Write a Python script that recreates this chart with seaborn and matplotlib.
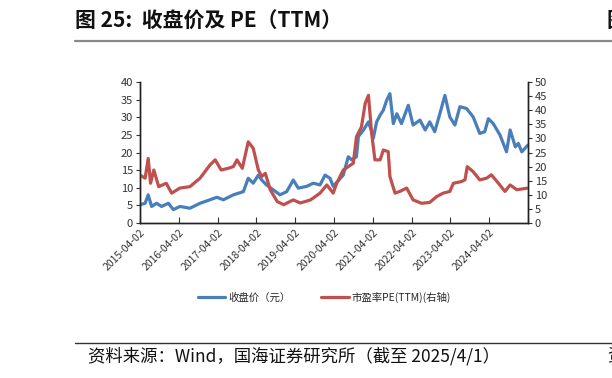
import pandas as pd
import matplotlib
matplotlib.use('Agg')
import matplotlib.pyplot as plt
import seaborn as sns

# 收盘价（元），左轴
price_dates = ['2015-04-02', '2015-05-20', '2015-06-18', '2015-07-20', '2015-09-05', '2015-10-22',
               '2015-12-25', '2016-02-10', '2016-04-12', '2016-07-15', '2016-10-18', '2017-01-20',
               '2017-03-25', '2017-05-26', '2017-08-28', '2017-11-30', '2018-01-15', '2018-03-03',
               '2018-04-20', '2018-05-22', '2018-07-06', '2018-09-08', '2018-11-10', '2019-01-12',
               '2019-03-15', '2019-05-01', '2019-07-19', '2019-09-20', '2019-11-22', '2020-01-08',
               '2020-02-24', '2020-03-25', '2020-06-28', '2020-08-14', '2020-09-16', '2020-10-30',
               '2020-11-17', '2021-01-04', '2021-02-20', '2021-03-22', '2021-04-06', '2021-05-08',
               '2021-06-10', '2021-07-10', '2021-08-10', '2021-09-10', '2021-10-12', '2021-11-14',
               '2021-12-28', '2022-03-02', '2022-04-16', '2022-06-20', '2022-08-08', '2022-09-20',
               '2022-11-06', '2022-12-24', '2023-02-10', '2023-03-28', '2023-05-15', '2023-07-01',
               '2023-09-01', '2023-11-03', '2024-01-04', '2024-02-20', '2024-03-25', '2024-05-10',
               '2024-07-12', '2024-09-12', '2024-10-16', '2024-12-04', '2025-01-01', '2025-02-03',
               '2025-04-01']
price_vals = [5.2, 5.6, 8.0, 4.7, 5.6, 4.7,
              5.6, 3.8, 4.7, 4.2, 5.6, 6.6,
              7.3, 6.6, 8.0, 8.9, 12.7, 11.3,
              13.6, 12.2, 10.8, 9.4, 8.0, 8.9,
              12.2, 9.9, 10.4, 11.3, 10.8, 13.6,
              12.7, 10.4, 13.6, 18.8, 17.9, 18.8,
              24.5, 26.4, 28.7, 25.9, 24.0, 28.7,
              30.6, 32.0, 34.8, 36.7, 28.2, 31.0,
              28.2, 33.4, 27.8, 29.2, 26.4, 28.7,
              25.9, 31.0, 36.2, 30.1, 27.8, 33.0,
              32.5, 30.1, 25.4, 25.9, 29.6, 28.2,
              25.0, 20.2, 26.4, 21.6, 22.6, 20.2,
              22.1]

# 市盈率PE(TTM)，右轴
pe_dates = ['2015-04-02', '2015-05-20', '2015-06-18', '2015-07-10', '2015-08-10', '2015-09-25',
            '2015-12-05', '2016-01-25', '2016-04-12', '2016-07-15', '2016-10-18', '2017-01-20',
            '2017-03-10', '2017-05-05', '2017-07-10', '2017-08-28', '2017-10-01', '2017-11-20',
            '2018-01-15', '2018-03-03', '2018-04-20', '2018-05-22', '2018-06-25', '2018-08-10',
            '2018-10-15', '2018-12-15', '2019-03-15', '2019-05-20', '2019-08-25', '2019-11-22',
            '2020-01-25', '2020-03-25', '2020-04-27', '2020-06-28', '2020-08-14', '2020-09-30',
            '2020-10-30', '2020-12-16', '2021-01-20', '2021-02-20', '2021-03-22', '2021-04-22',
            '2021-06-10', '2021-07-10', '2021-08-25', '2021-09-10', '2021-10-28', '2021-12-12',
            '2022-02-15', '2022-04-16', '2022-07-05', '2022-09-20', '2022-11-25', '2023-01-25',
            '2023-03-28', '2023-05-01', '2023-07-15', '2023-08-18', '2023-09-08', '2023-11-03',
            '2024-01-04', '2024-03-08', '2024-04-22', '2024-06-28', '2024-08-28', '2024-10-16',
            '2024-12-18', '2025-04-01']
pe_vals = [17.0, 15.9, 22.9, 14.1, 18.8, 12.9,
           14.1, 10.6, 12.4, 12.9, 15.9, 20.6,
           22.4, 18.8, 19.4, 20.0, 22.4, 19.4,
           28.8, 26.5, 18.8, 16.5, 17.6, 11.8,
           7.6, 6.5, 8.2, 7.1, 8.2, 10.6,
           13.5, 10.6, 14.1, 18.8, 20.0, 21.2,
           30.6, 34.1, 42.4, 45.3, 31.8, 22.4,
           22.4, 25.9, 25.3, 16.5, 10.6, 11.2,
           12.4, 8.2, 7.0, 7.3, 9.4, 10.6,
           11.2, 14.1, 14.7, 15.3, 20.0, 18.2,
           15.3, 15.9, 17.1, 14.1, 11.2, 13.5,
           11.8, 12.4]

tick_dates = ['2015-04-02', '2016-04-02', '2017-04-02', '2018-04-02', '2019-04-02',
              '2020-04-02', '2021-04-02', '2022-04-02', '2023-04-02', '2024-04-02']
end_date = '2025-04-02'

sns.set_theme(style='white')
plt.rcParams['font.family'] = ['Noto Sans CJK SC', 'DejaVu Sans']

price = pd.DataFrame({'date': pd.to_datetime(price_dates), 'val': price_vals})
pe = pd.DataFrame({'date': pd.to_datetime(pe_dates), 'val': pe_vals})

blue = '#4A7EBB'
red = '#C0504D'

fig = plt.figure(figsize=(6.12, 3.78), dpi=100)
ax = fig.add_axes([0.2288, 0.41, 0.6339, 0.373])
ax2 = ax.twinx()

sns.lineplot(data=price, x='date', y='val', ax=ax, color=blue, lw=2.3, legend=False)
sns.lineplot(data=pe, x='date', y='val', ax=ax2, color=red, lw=2.3, legend=False)

ax.set_xlim(pd.Timestamp(tick_dates[0]), pd.Timestamp(end_date))
ax.set_ylim(0, 40)
ax2.set_ylim(0, 50)
ax.set_yticks(range(0, 41, 5))
ax2.set_yticks(range(0, 51, 5))
ax.set_xticks(pd.to_datetime(tick_dates + [end_date]))
ax.set_xticklabels(tick_dates + [''], rotation=45, ha='right', rotation_mode='anchor')
ax.set_xlabel('')
ax.set_ylabel('')
ax2.set_ylabel('')

for a in (ax, ax2):
    a.spines['top'].set_visible(False)
    for s in ('left', 'right', 'bottom'):
        a.spines[s].set_color('#222222')
        a.spines[s].set_linewidth(1.0)
    a.tick_params(axis='y', labelsize=8, colors='#333333', length=3, width=0.8, pad=2)
ax.tick_params(axis='y', left=True, direction='out')
ax2.tick_params(axis='y', right=True, direction='out')
ax.tick_params(axis='x', bottom=True, direction='in', length=4, width=0.8,
               labelsize=7.5, colors='#333333', pad=3)
for lab in ax.get_yticklabels() + ax2.get_yticklabels() + ax.get_xticklabels():
    lab.set_color('#333333')

# legend
h1 = plt.Line2D([], [], color=blue, lw=2.3)
h2 = plt.Line2D([], [], color=red, lw=2.3)
fig.legend([h1, h2], ['收盘价（元）', '市盈率PE(TTM)(右轴)'], loc='center',
           bbox_to_anchor=(0.53, 0.214), ncol=2, frameon=False, fontsize=7.5,
           handlelength=2.6, handletextpad=0.3, columnspacing=3.0)

# title and source
fig.text(0.123, 0.945, '图 25:  收盘价及 PE（TTM）', fontsize=15, fontweight='bold',
         va='center', ha='left', color='#111111')
# cut-off glyphs from the neighbouring column, only their edge is visible
fig.text(0.991, 0.945, '图', fontsize=15, fontweight='bold', va='center', ha='left',
         color='#111111')
fig.add_artist(plt.Line2D([0.123, 1.0], [0.892, 0.892], color='#888888', lw=1.6))
fig.add_artist(plt.Line2D([0.123, 1.0], [0.093, 0.093], color='#333333', lw=1.0))
fig.text(0.143, 0.057, '资料来源：Wind，国海证券研究所（截至 2025/4/1）', fontsize=12.5,
         va='center', ha='left', color='#111111')
fig.text(0.992, 0.057, '资', fontsize=12.5, va='center', ha='left', color='#111111')

fig.savefig('out.png', dpi=100)
